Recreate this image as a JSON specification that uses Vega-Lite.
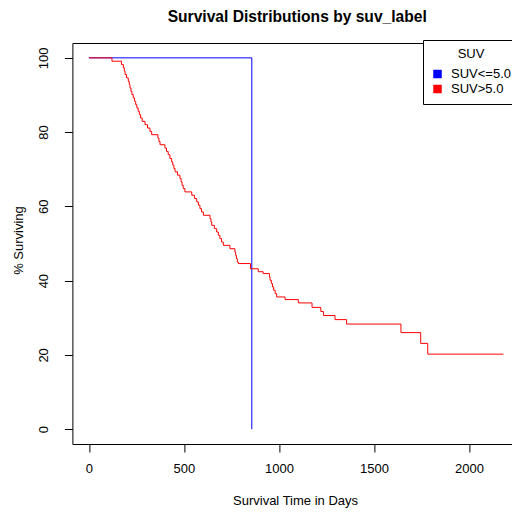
{
  "$schema": "https://vega.github.io/schema/vega-lite/v6.json",
  "autosize": "none",
  "padding": {"left": 72.4, "top": 43, "right": 0, "bottom": 69},
  "width": 439.6,
  "height": 401,
  "background": "white",
  "title": {"text": "Survival Distributions by suv_label", "font": "Liberation Sans", "fontSize": 15.6, "fontWeight": "bold", "color": "black", "anchor": "middle", "baseline": "alphabetic", "offset": 22.5, "dx": 5, "dy": 20.5},
  "config": {"view": {"stroke": "black", "strokeWidth": 1}},
  "data": {"values": [
    {"t": 0, "s": 100, "g": "SUV<=5.0"},
    {"t": 857, "s": 0, "g": "SUV<=5.0"},
    {"t": 0, "s": 100, "g": "SUV>5.0"},
    {"t": 121, "s": 99.1, "g": "SUV>5.0"},
    {"t": 171, "s": 98.2, "g": "SUV>5.0"},
    {"t": 181, "s": 97.3, "g": "SUV>5.0"},
    {"t": 186, "s": 96.4, "g": "SUV>5.0"},
    {"t": 190, "s": 95.5, "g": "SUV>5.0"},
    {"t": 198, "s": 94.6, "g": "SUV>5.0"},
    {"t": 207, "s": 93.7, "g": "SUV>5.0"},
    {"t": 212, "s": 92.8, "g": "SUV>5.0"},
    {"t": 216, "s": 91.9, "g": "SUV>5.0"},
    {"t": 221, "s": 91.0, "g": "SUV>5.0"},
    {"t": 226, "s": 90.1, "g": "SUV>5.0"},
    {"t": 233, "s": 89.2, "g": "SUV>5.0"},
    {"t": 240, "s": 88.3, "g": "SUV>5.0"},
    {"t": 246, "s": 87.4, "g": "SUV>5.0"},
    {"t": 252, "s": 86.5, "g": "SUV>5.0"},
    {"t": 259, "s": 85.6, "g": "SUV>5.0"},
    {"t": 265, "s": 84.7, "g": "SUV>5.0"},
    {"t": 272, "s": 83.8, "g": "SUV>5.0"},
    {"t": 280, "s": 82.9, "g": "SUV>5.0"},
    {"t": 295, "s": 82.0, "g": "SUV>5.0"},
    {"t": 308, "s": 81.1, "g": "SUV>5.0"},
    {"t": 321, "s": 80.2, "g": "SUV>5.0"},
    {"t": 330, "s": 79.3, "g": "SUV>5.0"},
    {"t": 363, "s": 78.4, "g": "SUV>5.0"},
    {"t": 368, "s": 77.5, "g": "SUV>5.0"},
    {"t": 374, "s": 76.6, "g": "SUV>5.0"},
    {"t": 400, "s": 75.7, "g": "SUV>5.0"},
    {"t": 408, "s": 74.8, "g": "SUV>5.0"},
    {"t": 417, "s": 73.9, "g": "SUV>5.0"},
    {"t": 426, "s": 72.9, "g": "SUV>5.0"},
    {"t": 435, "s": 72.0, "g": "SUV>5.0"},
    {"t": 441, "s": 71.1, "g": "SUV>5.0"},
    {"t": 447, "s": 70.2, "g": "SUV>5.0"},
    {"t": 453, "s": 69.3, "g": "SUV>5.0"},
    {"t": 466, "s": 68.4, "g": "SUV>5.0"},
    {"t": 479, "s": 67.5, "g": "SUV>5.0"},
    {"t": 485, "s": 66.6, "g": "SUV>5.0"},
    {"t": 490, "s": 65.7, "g": "SUV>5.0"},
    {"t": 496, "s": 64.8, "g": "SUV>5.0"},
    {"t": 505, "s": 63.9, "g": "SUV>5.0"},
    {"t": 541, "s": 63.0, "g": "SUV>5.0"},
    {"t": 555, "s": 62.1, "g": "SUV>5.0"},
    {"t": 567, "s": 61.2, "g": "SUV>5.0"},
    {"t": 576, "s": 60.3, "g": "SUV>5.0"},
    {"t": 584, "s": 59.4, "g": "SUV>5.0"},
    {"t": 592, "s": 58.5, "g": "SUV>5.0"},
    {"t": 602, "s": 57.6, "g": "SUV>5.0"},
    {"t": 637, "s": 56.7, "g": "SUV>5.0"},
    {"t": 642, "s": 55.8, "g": "SUV>5.0"},
    {"t": 646, "s": 54.9, "g": "SUV>5.0"},
    {"t": 660, "s": 54.0, "g": "SUV>5.0"},
    {"t": 672, "s": 53.1, "g": "SUV>5.0"},
    {"t": 681, "s": 52.2, "g": "SUV>5.0"},
    {"t": 689, "s": 51.3, "g": "SUV>5.0"},
    {"t": 698, "s": 50.4, "g": "SUV>5.0"},
    {"t": 707, "s": 49.5, "g": "SUV>5.0"},
    {"t": 742, "s": 48.6, "g": "SUV>5.0"},
    {"t": 768, "s": 47.7, "g": "SUV>5.0"},
    {"t": 772, "s": 46.8, "g": "SUV>5.0"},
    {"t": 776, "s": 45.9, "g": "SUV>5.0"},
    {"t": 781, "s": 45.0, "g": "SUV>5.0"},
    {"t": 786, "s": 44.6, "g": "SUV>5.0"},
    {"t": 850, "s": 43.2, "g": "SUV>5.0"},
    {"t": 891, "s": 42.4, "g": "SUV>5.0"},
    {"t": 917, "s": 41.9, "g": "SUV>5.0"},
    {"t": 950, "s": 41.0, "g": "SUV>5.0"},
    {"t": 953, "s": 40.1, "g": "SUV>5.0"},
    {"t": 960, "s": 39.2, "g": "SUV>5.0"},
    {"t": 966, "s": 38.3, "g": "SUV>5.0"},
    {"t": 972, "s": 37.4, "g": "SUV>5.0"},
    {"t": 980, "s": 36.5, "g": "SUV>5.0"},
    {"t": 988, "s": 35.6, "g": "SUV>5.0"},
    {"t": 1032, "s": 34.9, "g": "SUV>5.0"},
    {"t": 1102, "s": 34.0, "g": "SUV>5.0"},
    {"t": 1174, "s": 32.8, "g": "SUV>5.0"},
    {"t": 1220, "s": 31.7, "g": "SUV>5.0"},
    {"t": 1234, "s": 30.6, "g": "SUV>5.0"},
    {"t": 1295, "s": 29.5, "g": "SUV>5.0"},
    {"t": 1356, "s": 28.3, "g": "SUV>5.0"},
    {"t": 1642, "s": 26.0, "g": "SUV>5.0"},
    {"t": 1746, "s": 23.1, "g": "SUV>5.0"},
    {"t": 1783, "s": 20.2, "g": "SUV>5.0"},
    {"t": 2181, "s": 20.2, "g": "SUV>5.0"}
  ]},
  "mark": {"type": "line", "interpolate": "step-after", "strokeWidth": 1, "clip": true},
  "encoding": {
    "x": {
      "field": "t", "type": "quantitative",
      "scale": {"domain": [-87.2, 2226.5], "nice": false, "zero": false},
      "axis": {
        "title": "Survival Time in Days", "values": [0, 500, 1000, 1500, 2000], "format": "d",
        "grid": false, "domain": false, "tickSize": 8, "tickColor": "black", "tickWidth": 1,
        "labelFont": "Liberation Sans", "labelFontSize": 13, "labelColor": "black",
        "labelBaseline": "alphabetic", "labelPadding": 20.7, "labelFlush": false, "labelOverlap": false,
        "titleFont": "Liberation Sans", "titleFontSize": 13, "titleFontWeight": "normal", "titleColor": "black",
        "titleBaseline": "alphabetic", "titleAlign": "center", "titleX": 222.6, "titleY": 60.6
      }
    },
    "y": {
      "field": "s", "type": "quantitative",
      "scale": {"domain": [-4, 104], "nice": false, "zero": false},
      "axis": {
        "title": "% Surviving", "values": [0, 20, 40, 60, 80, 100], "format": "d",
        "grid": false, "domain": false, "tickSize": 8, "tickColor": "black", "tickWidth": 1,
        "labelFont": "Liberation Sans", "labelFontSize": 13, "labelColor": "black",
        "labelAngle": 270, "labelAlign": "center", "labelBaseline": "alphabetic", "labelPadding": 16.8,
        "labelFlush": false, "labelOverlap": false,
        "titleFont": "Liberation Sans", "titleFontSize": 13, "titleFontWeight": "normal", "titleColor": "black",
        "titleAngle": 270, "titleBaseline": "alphabetic", "titleAlign": "center", "titleX": -50, "titleY": 197
      }
    },
    "color": {
      "field": "g", "type": "nominal",
      "scale": {"domain": ["SUV<=5.0", "SUV>5.0"], "range": ["blue", "red"]},
      "legend": {
        "title": "SUV", "orient": "none", "legendX": 350.6, "legendY": -3, "direction": "vertical",
        "strokeColor": "black", "fillColor": "white", "padding": 8,
        "symbolType": "square", "symbolSize": 64, "symbolStrokeWidth": 0.5,
        "labelFont": "Liberation Sans", "labelFontSize": 13, "labelColor": "black", "labelOffset": 7,
        "titleFont": "Liberation Sans", "titleFontSize": 13, "titleFontWeight": "normal", "titleColor": "black",
        "titleAnchor": "middle", "titlePadding": 6.5, "rowPadding": 1,
        "encode": {"symbols": {"update": {"fill": {"scale": "color", "field": "value"}, "stroke": {"value": "black"}, "opacity": {"value": 1}}}}
      }
    }
  }
}
